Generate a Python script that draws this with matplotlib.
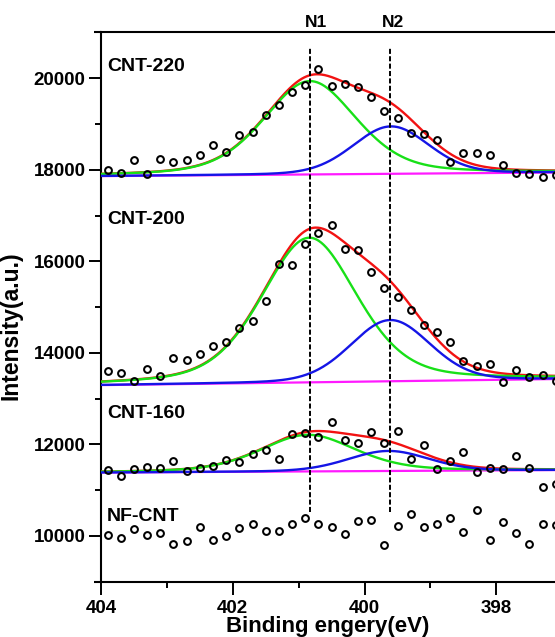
import numpy as np
import matplotlib
matplotlib.use("Agg")
import matplotlib.pyplot as plt
from matplotlib.ticker import MultipleLocator

# ---------------- data ----------------
energy = [403.9, 403.7, 403.5, 403.3, 403.1, 402.9, 402.7, 402.5, 402.3, 402.1,
          401.9, 401.7, 401.5, 401.3, 401.1, 400.9, 400.7, 400.5, 400.3, 400.1,
          399.9, 399.7, 399.5, 399.3, 399.1, 398.9, 398.7, 398.5, 398.3, 398.1,
          397.9, 397.7, 397.5, 397.3, 397.1]

cnt220 = [18000, 17930, 18210, 17910, 18230, 18170, 18220, 18320, 18540, 18380,
          18750, 18835, 19190, 19420, 19700, 19853, 20200, 19840, 19885, 19815,
          19595, 19290, 19140, 18800, 18780, 18658, 18170, 18365, 18360, 18330,
          18100, 17920, 17910, 17836, 17885]

cnt200 = [13594, 13558, 13396, 13646, 13499, 13887, 13834, 13974, 14156, 14237,
          14544, 14703, 15141, 15946, 15909, 16369, 16614, 16785, 16274, 16238,
          15763, 15421, 15223, 14945, 14617, 14448, 14229, 13813, 13705, 13760,
          13372, 13628, 13468, 13513, 13396]

cnt160 = [11440, 11309, 11462, 11513, 11477, 11645, 11426, 11477, 11528, 11659,
          11608, 11791, 11878, 11674, 12229, 12244, 12160, 12485, 12098, 12039,
          12266, 12024, 12295, 11674, 11988, 11455, 11638, 11842, 11404, 11491,
          11455, 11754, 11491, 11075, 11134]

nfcnt = [10010, 9955, 10150, 10015, 10060, 9815, 9888, 10205, 9920, 10008,
         10170, 10271, 10118, 10114, 10252, 10384, 10271, 10195, 10033, 10337,
         10344, 9803, 10216, 10475, 10198, 10253, 10388, 10085, 10556, 9920,
         10308, 10066, 9833, 10260, 10235]

sample_names = ["CNT-220", "CNT-200", "CNT-160", "NF-CNT"]

# fitted components (CNT-220, CNT-200, CNT-160)
baseline_404 = [17862, 13295, 11385]
baseline_397 = [17942, 13430, 11440]
n1_center = [400.83, 400.84, 400.86]
n1_height = [2040, 3160, 800]
n1_fwhm = [1.66, 1.71, 1.70]
n2_center = [399.60, 399.61, 399.64]
n2_height = [1036, 1338, 438]
n2_fwhm = [1.36, 1.42, 1.44]
n1_lorentz = 0.35
n2_lorentz = 0.15

peak_names = ["N1", "N2"]
peak_positions = [400.83, 399.62]

# ---------------- figure ----------------
plt.rcParams["font.family"] = ["Liberation Sans", "DejaVu Sans"]
plt.rcParams["font.weight"] = "bold"

fig = plt.figure(figsize=(5.55, 6.37), dpi=100)
ax = fig.add_axes([0.182, 0.0868, 0.843, 0.8622])


def pseudo_voigt(x, c, h, w, eta):
    d = (x - c) / w
    return h * (eta / (1 + 4 * d ** 2) + (1 - eta) * np.exp(-4 * np.log(2) * d ** 2))


xx = np.linspace(404.2, 396.7, 600)
for i in range(3):
    base = np.interp(xx, [397, 404], [baseline_397[i], baseline_404[i]])
    p1 = pseudo_voigt(xx, n1_center[i], n1_height[i], n1_fwhm[i], n1_lorentz)
    p2 = pseudo_voigt(xx, n2_center[i], n2_height[i], n2_fwhm[i], n2_lorentz)
    ax.plot(xx, base, color="#ff1aff", lw=1.6, zorder=2)
    ax.plot(xx, base + p1 + p2, color="#f21212", lw=1.7, zorder=3)
    ax.plot(xx, base + p1, color="#18e018", lw=1.7, zorder=4)
    ax.plot(xx, base + p2, color="#1515e6", lw=1.7, zorder=5)

for series in (cnt220, cnt200, cnt160, nfcnt):
    ax.plot(energy, series, "o", mfc="none", mec="black", ms=4.9, mew=1.45,
            zorder=7)

ax.vlines(peak_positions, 10526, 20692, colors="black",
          linestyles=[(0, (2.6, 1.2))], lw=1.4, zorder=6)

for name, xp, dx in zip(peak_names, peak_positions, [-0.09, -0.05]):
    ax.text(xp + dx, 1.0188, name, transform=ax.get_xaxis_transform(),
            ha="center", va="center", fontsize=12.5, fontweight="bold")

label_y = [20263, 16917, 12667, 10417]
for name, ly in zip(sample_names, label_y):
    ax.text(403.91, ly, name, ha="left", va="center", fontsize=14,
            fontweight="bold")

ax.set_xlim(404, 396.9)
ax.set_ylim(9000, 21000)
ax.xaxis.set_major_locator(MultipleLocator(2))
ax.xaxis.set_minor_locator(MultipleLocator(1))
ax.yaxis.set_major_locator(MultipleLocator(2000))
ax.yaxis.set_minor_locator(MultipleLocator(1000))
ax.tick_params(which="both", direction="out", width=1.4)
ax.tick_params(which="major", length=9, labelsize=13.5)
ax.tick_params(which="minor", length=4.5)
ax.tick_params(axis="x", which="major", pad=4)
ax.tick_params(axis="y", which="major", pad=2)
for lab in ax.get_xticklabels() + ax.get_yticklabels():
    lab.set_fontweight("bold")

for sp in ax.spines.values():
    sp.set_linewidth(1.5)
for yy in (0, 1):
    ax.plot([-0.014, 0], [yy, yy], transform=ax.transAxes, clip_on=False,
            color="black", lw=1.5, solid_capstyle="butt")

ax.set_xlabel("Binding engery(eV)", fontsize=16, fontweight="bold")
ax.set_ylabel("Intensity(a.u.)", fontsize=16.5, fontweight="bold")
ax.xaxis.set_label_coords(0.485, -0.063)
ax.yaxis.set_label_coords(-0.168, 0.466)

fig.savefig("out.png", dpi=100)
